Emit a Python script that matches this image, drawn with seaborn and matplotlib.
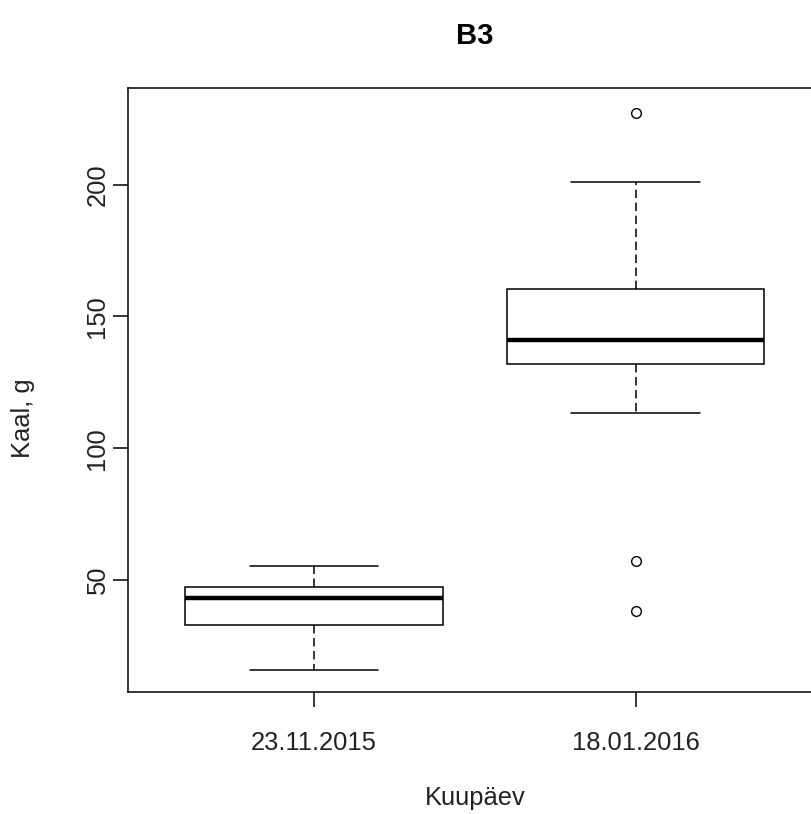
import matplotlib
matplotlib.use("Agg")
import matplotlib.pyplot as plt
import pandas as pd
import seaborn as sns

# Fish weights (g) for the two sampling dates of tank B3
dates = ["23.11.2015", "18.01.2016"]
weights_2015 = [15.9, 27.0, 33.0, 38.5, 43.3, 45.5, 47.5, 51.0, 55.4]
weights_2016 = [38.4, 57.2, 113.3, 132.1, 135.0, 138.5, 141.2, 146.0,
                152.0, 160.5, 178.0, 201.2, 227.2]
y_ticks = [50, 100, 150, 200]

df = pd.DataFrame({
    "Kuupäev": [dates[0]] * len(weights_2015) + [dates[1]] * len(weights_2016),
    "Kaal": weights_2015 + weights_2016,
})

sns.set_style("white")
plt.rcParams["font.family"] = ["Liberation Sans", "DejaVu Sans"]

W, H = 811, 814
fig = plt.figure(figsize=(W / 100, H / 100), dpi=100)
left, right, top, bottom = 127.5, 822, 88, 692
ax = fig.add_axes([left / W, 1 - bottom / H, (right - left) / W, (bottom - top) / H])

sns.boxplot(
    data=df, x="Kuupäev", y="Kaal", order=dates, ax=ax,
    color="white", linecolor="black", linewidth=1.1, width=0.8,
    whis=1.5, fliersize=7,
    medianprops=dict(linewidth=3.2),
    whiskerprops=dict(linestyle=(0, (5.5, 3))),
    flierprops=dict(marker="o", markerfacecolor="none", markeredgewidth=1.0),
)

ax.set_xlim(-0.58, 1.58)
ax.set_ylim(7.5, 236.7)
ax.set_yticks(y_ticks)
ax.set_yticklabels([str(t) for t in y_ticks], rotation=90, va="center")

for side in ["left", "right", "top", "bottom"]:
    ax.spines[side].set_color("black")
    ax.spines[side].set_linewidth(1.1)
    ax.spines[side].set_visible(True)

ax.tick_params(axis="both", direction="out", length=11, width=1.1,
               color="black", labelcolor="#222222", labelsize=18.4)
ax.tick_params(axis="x", pad=17)
ax.tick_params(axis="y", pad=2)
ax.tick_params(left=True, bottom=True)

ax.set_xlabel("Kuupäev", fontsize=18.4, color="#222222")
ax.set_ylabel("Kaal, g", fontsize=18.4, color="#222222")
ax.xaxis.set_label_coords(0.5, (692 - 798) / 604)
ax.xaxis.label.set_va("center")
ax.yaxis.set_label_coords((23 - left) / (right - left), (692 - 418) / 604)
ax.yaxis.label.set_va("center")
ax.yaxis.label.set_ha("center")

fig.text(475 / W, 1 - 36 / H, "B3", ha="center", va="center",
         fontsize=21, fontweight="bold", color="black")

fig.savefig("out.png", dpi=100)
